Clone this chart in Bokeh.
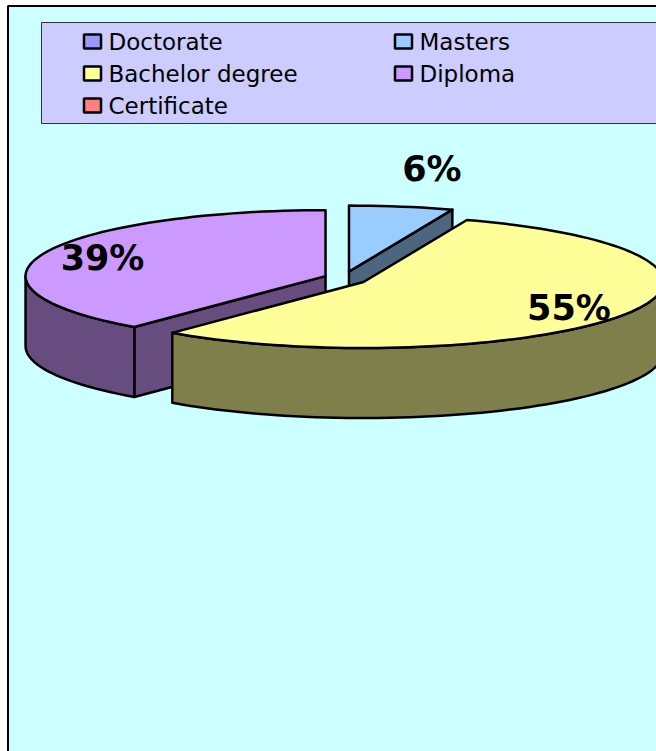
import math
from bokeh.plotting import figure
from bokeh.models import Range1d, BoxAnnotation
from bokeh.core.properties import value
from bokeh.embed import file_html
from bokeh.resources import INLINE

# ---- data ----
categories = ["Doctorate", "Masters", "Bachelor degree", "Diploma", "Certificate"]
shares = [0.0, 5.6, 55.4, 39.0, 0.0]
colors = ["#9999FF", "#99CCFF", "#FFFF99", "#CC99FF", "#FF8080"]

# ---- layout / style ----
W, H = 656, 751
CX, CY = 344.8, 278.0      # pie centre (page pixels)
RX, RY = 300.0, 66.0        # ellipse radii
DEPTH = 70.0                # thickness of the 3D pie
EXP_X, EXP_Y = 21.0, 7.0    # explosion offset
FONT = "DejaVu Sans"


def darker(hex_color, f=0.5):
    h = hex_color.lstrip("#")
    r, g, b = (int(h[i:i + 2], 16) for i in (0, 2, 4))
    return "#%02X%02X%02X" % (int(r * f), int(g * f), int(b * f))


p = figure(width=W, height=H,
           x_range=Range1d(0, W), y_range=Range1d(H, 0),
           x_axis_type=None, y_axis_type=None,
           toolbar_location=None, output_backend="svg",
           min_border=0,
           background_fill_color="#FFFFFF", border_fill_color="#FFFFFF",
           outline_line_color=None)
p.grid.visible = False

# chart area (its right and bottom edges lie outside the picture)
p.add_layout(BoxAnnotation(left=7.5, right=W + 30, top=5.5, bottom=H + 30,
                           fill_color="#CCFFFF", fill_alpha=1.0,
                           line_color="#000000", line_alpha=1.0, line_width=2,
                           level="underlay"))

# ---- build 3D exploded pie ----
total = sum(shares)


def pt(cx, cy, deg, dy=0.0):
    t = math.radians(deg)
    return cx + RX * math.sin(t), cy - RY * math.cos(t) + dy


def arc(cx, cy, a, b, dy=0.0):
    n = max(2, int(abs(b - a) / 2) + 1)
    pts = [pt(cx, cy, a + (b - a) * k / (n - 1), dy) for k in range(n)]
    return [q[0] for q in pts], [q[1] for q in pts]


slices = []
cum = 0.0
for cat, s, col in zip(categories, shares, colors):
    t1 = cum / total * 360.0
    t2 = (cum + s) / total * 360.0
    cum += s
    if s <= 0:
        continue
    mid = (t1 + t2) / 2
    ox = CX + EXP_X * math.sin(math.radians(mid))
    oy = CY - EXP_Y * math.cos(math.radians(mid))
    slices.append(dict(cat=cat, s=s, col=col, t1=t1, t2=t2, mid=mid, ox=ox, oy=oy))

slices.sort(key=lambda d: d["oy"])  # back to front

xs, ys, fills = [], [], []
for d in slices:
    ox, oy, t1, t2 = d["ox"], d["oy"], d["t1"], d["t2"]
    side = darker(d["col"])
    # radial cut faces
    for t, vis in ((t1, math.sin(math.radians(t1)) < -1e-6),
                   (t2, math.sin(math.radians(t2)) > 1e-6)):
        if vis:
            ex, ey = pt(ox, oy, t)
            xs.append([ox, ex, ex, ox])
            ys.append([oy, ey, ey + DEPTH, oy + DEPTH])
            fills.append(side)
    # outer wall (front half only)
    a, b = max(t1, 90.0), min(t2, 270.0)
    if a < b:
        tx, ty = arc(ox, oy, a, b)
        bx, by = arc(ox, oy, a, b, DEPTH)
        xs.append(tx + bx[::-1])
        ys.append(ty + by[::-1])
        fills.append(side)
    # top face
    tx, ty = arc(ox, oy, t1, t2)
    xs.append([ox] + tx)
    ys.append([oy] + ty)
    fills.append(d["col"])

p.patches(xs, ys, fill_color=fills, line_color="#000000", line_width=2.5,
          line_join="round")

# ---- data labels ----
lx, ly, lt = [], [], []
for d in slices:
    frac = d["s"] / total
    small = frac < 0.1
    r = 1.58 if small else 0.79
    m = math.radians(d["mid"])
    lx.append(d["ox"] + RX * r * math.sin(m) * (1.0 if small else 1.0))
    ly.append(d["oy"] - RY * r * math.cos(m))
    lt.append("%d%%" % round(frac * 100))
p.text(lx, ly, text=lt, text_font=value(FONT), text_font_style="bold",
       text_font_size="35px", text_color="#000000",
       text_align="center", text_baseline="middle")

# ---- legend (two columns, row-major) ----
p.add_layout(BoxAnnotation(left=41, right=W + 30, top=22, bottom=123,
                           fill_color="#CCCCFF", fill_alpha=1.0,
                           line_color="#333333", line_alpha=1.0, line_width=1,
                           level="underlay"))
col_x = [92, 403]
sx = [col_x[i % 2] for i in range(len(categories))]
sy = [41 + 32 * (i // 2) for i in range(len(categories))]
p.rect(sx, sy, width=17, height=14, fill_color=colors,
       line_color="#000000", line_width=2.5)
p.text([x + 16 for x in sx], sy, text=categories, text_font=value(FONT),
       text_font_size="23px", text_color="#000000",
       text_align="left", text_baseline="middle")

open("out.html", "w").write(file_html(p, INLINE))
